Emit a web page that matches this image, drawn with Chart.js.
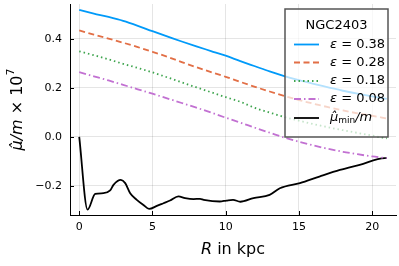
<!DOCTYPE html>
<html>
<head>
<meta charset="utf-8">
<script src="https://cdn.jsdelivr.net/npm/chart.js@4"></script>
<style>
  body { margin: 0; background: #fff; }
</style>
</head>
<body>
<canvas id="mu_chart" width="399" height="266"></canvas>
<script>
// R in kpc
const radius = [0,1,2,3,4,5,6,7,8,9,10,11,12,13,14,15,16,17,18,19,20,21];
// mu/m x 1e7 for each epsilon
const eps038 = [0.518,0.503,0.489,0.473,0.453,0.431,0.410,0.389,0.369,0.350,0.331,0.309,0.288,0.267,0.248,0.231,0.216,0.202,0.188,0.176,0.165,0.155];
const eps028 = [0.434,0.417,0.401,0.384,0.366,0.347,0.327,0.305,0.284,0.264,0.245,0.224,0.204,0.185,0.167,0.150,0.135,0.121,0.108,0.096,0.086,0.075];
const eps018 = [0.349,0.333,0.316,0.298,0.281,0.263,0.243,0.222,0.202,0.182,0.162,0.143,0.118,0.099,0.081,0.066,0.052,0.039,0.027,0.016,0.005,-0.006];
const eps008 = [0.264,0.247,0.230,0.212,0.194,0.176,0.157,0.138,0.119,0.099,0.078,0.058,0.037,0.017,-0.003,-0.020,-0.035,-0.049,-0.061,-0.071,-0.080,-0.087];
// mu_min / m
const minR  = [0,0.57,1.09,1.66,2.11,2.34,2.84,3.14,3.48,3.93,4.38,4.77,5.3,5.75,6.2,6.77,7.23,7.8,8.25,8.5,9.6,10.05,10.5,11.0,11.9,13.0,13.7,15.07,16.4,17.8,19.15,20.86,21];
const minMu = [0,-0.297,-0.233,-0.23,-0.219,-0.196,-0.176,-0.189,-0.23,-0.257,-0.278,-0.294,-0.282,-0.271,-0.26,-0.243,-0.25,-0.254,-0.253,-0.257,-0.264,-0.26,-0.257,-0.265,-0.25,-0.237,-0.21,-0.189,-0.162,-0.135,-0.114,-0.087,-0.087];

const xTicks = [0, 5, 10, 15, 20];
const yTicks = [-0.2, 0, 0.2, 0.4];
const legendTitle = 'NGC2403';
const epsLabels = ['0.38', '0.28', '0.18', '0.08'];

const FONT = "'DejaVu Sans'";
const colors = ['#009af9', '#e26f46', '#3da44d', '#c271d2', '#000000'];
const dashes = [[], [6, 3.5], [1.5, 3], [7, 3, 1.5, 3], []];

function pts(xs, ys) { return xs.map((x, i) => ({x: x, y: ys[i]})); }

const series = [eps038, eps028, eps018, eps008];
const datasets = series.map((s, i) => ({
    data: pts(radius, s),
    borderColor: colors[i],
    borderWidth: 1.8,
    borderDash: dashes[i],
    pointRadius: 0,
    cubicInterpolationMode: 'monotone'
}));
datasets.push({
    data: pts(minR, minMu),
    borderColor: colors[4],
    borderWidth: 1.8,
    pointRadius: 0,
    cubicInterpolationMode: 'monotone'
});

// draw pieces of text with different styles in a row
function drawRuns(ctx, runs, x, y) {
    let cx = x;
    runs.forEach(r => {
        ctx.font = r.font;
        ctx.fillText(r.t, cx, y + (r.dy || 0));
        cx += ctx.measureText(r.t).width;
    });
    return cx;
}
function runsWidth(ctx, runs) {
    let w = 0;
    runs.forEach(r => { ctx.font = r.font; w += ctx.measureText(r.t).width; });
    return w;
}

const decor = {
    id: 'decor',
    afterDatasetsDraw(chart) {
        const ctx = chart.ctx;
        const xs = chart.scales.x, ys = chart.scales.y;
        const area = chart.chartArea;
        ctx.save();
        // inner tick marks
        ctx.strokeStyle = '#000';
        ctx.lineWidth = 1;
        ctx.beginPath();
        xTicks.forEach(v => {
            const px = Math.round(xs.getPixelForValue(v)) + 0.5;
            ctx.moveTo(px, area.bottom); ctx.lineTo(px, area.bottom - 4);
        });
        yTicks.forEach(v => {
            const py = Math.round(ys.getPixelForValue(v)) + 0.5;
            ctx.moveTo(area.left, py); ctx.lineTo(area.left + 4, py);
        });
        ctx.stroke();

        // legend box
        const bx = 285, by = 9, bw = 103, bh = 128;
        ctx.fillStyle = 'rgba(255,255,255,0.7)';
        ctx.fillRect(bx, by, bw, bh);
        ctx.strokeStyle = '#555';
        ctx.lineWidth = 1.5;
        ctx.strokeRect(bx, by, bw, bh);

        ctx.fillStyle = '#000';
        ctx.textBaseline = 'middle';
        ctx.textAlign = 'center';
        ctx.font = '13px ' + FONT;
        ctx.fillText(legendTitle, bx + bw / 2, 26);

        ctx.textAlign = 'left';
        const rowY = [44.5, 62.5, 81, 99, 118];
        rowY.forEach((yy, i) => {
            ctx.strokeStyle = colors[i];
            ctx.lineWidth = 1.8;
            ctx.setLineDash(dashes[i]);
            ctx.beginPath();
            ctx.moveTo(294, yy); ctx.lineTo(319, yy);
            ctx.stroke();
            ctx.setLineDash([]);
            ctx.fillStyle = '#000';
            if (i < 4) {
                drawRuns(ctx, [
                    {t: 'ε', font: 'italic 13px ' + FONT},
                    {t: ' = ' + epsLabels[i], font: '13px ' + FONT}
                ], 330, yy);
            } else {
                drawRuns(ctx, [
                    {t: 'μ\u0302', font: 'italic 13px ' + FONT},
                    {t: 'min', font: '9px ' + FONT, dy: 3},
                    {t: '/m', font: 'italic 13px ' + FONT}
                ], 330, yy);
            }
        });

        // x axis title
        const xr = [
            {t: 'R', font: 'italic 16px ' + FONT},
            {t: ' in kpc', font: '16px ' + FONT}
        ];
        ctx.textBaseline = 'middle';
        drawRuns(ctx, xr, (area.left + area.right) / 2 - runsWidth(ctx, xr) / 2, 250);

        // y axis title
        const yr = [
            {t: 'μ\u0302/m', font: 'italic 16px ' + FONT},
            {t: ' × 10', font: '16px ' + FONT},
            {t: '7', font: '11px ' + FONT, dy: -7}
        ];
        ctx.translate(18, (area.top + area.bottom) / 2);
        ctx.rotate(-Math.PI / 2);
        drawRuns(ctx, yr, -runsWidth(ctx, yr) / 2, 0);
        ctx.restore();
    }
};

new Chart(document.getElementById('mu_chart').getContext('2d'), {
    type: 'line',
    data: { datasets: datasets },
    options: {
        responsive: false,
        animation: false,
        layout: { padding: { left: 0, right: 3, top: 4, bottom: 0 } },
        plugins: { legend: { display: false }, tooltip: { enabled: false } },
        scales: {
            x: {
                type: 'linear',
                min: -0.63, max: 21.63,
                afterBuildTicks: s => { s.ticks = xTicks.map(v => ({value: v})); },
                afterFit: s => { s.height = 51; s.paddingLeft = 0; s.paddingRight = 0; },
                grid: { color: 'rgba(0,0,0,0.1)', drawTicks: false },
                border: { color: '#000', width: 1 },
                ticks: { padding: 6, color: '#000', font: { family: 'DejaVu Sans', size: 11 }, maxRotation: 0,
                         callback: v => String(v) }
            },
            y: {
                type: 'linear',
                min: -0.319, max: 0.542,
                afterBuildTicks: s => { s.ticks = yTicks.map(v => ({value: v})); },
                afterFit: s => { s.width = 70; s.paddingTop = 0; s.paddingBottom = 0; },
                grid: { color: 'rgba(0,0,0,0.1)', drawTicks: false },
                border: { color: '#000', width: 1 },
                ticks: { padding: 8, color: '#000', font: { family: 'DejaVu Sans', size: 11 },
                         callback: v => (v < 0 ? '\u2212' : '') + Math.abs(v).toFixed(1) }
            }
        }
    },
    plugins: [decor]
});
</script>
</body>
</html>
